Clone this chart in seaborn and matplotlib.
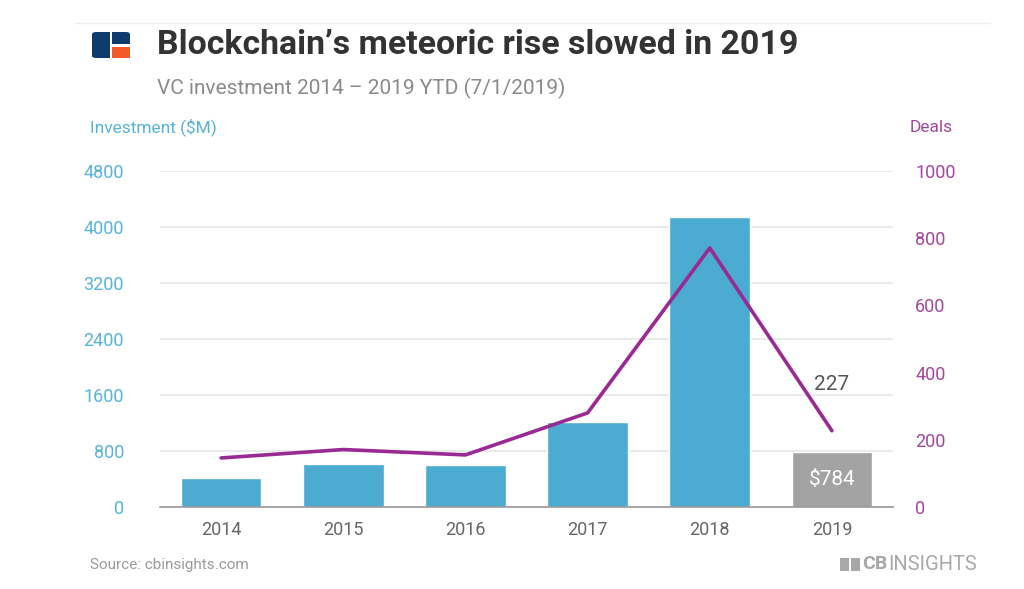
import matplotlib
matplotlib.use("Agg")
import matplotlib.pyplot as plt
import seaborn as sns
import pandas as pd
from matplotlib.patches import FancyBboxPatch, Rectangle

years = ["2014", "2015", "2016", "2017", "2018", "2019"]
investment = [410, 610, 600, 1210, 4140, 784]
deals = [146, 171, 155, 280, 771, 227]
left_ticks = [0, 800, 1600, 2400, 3200, 4000, 4800]
right_ticks = [0, 200, 400, 600, 800, 1000]

sns.set_theme(style="white")
plt.rcParams['font.family'] = ['Roboto', 'DejaVu Sans']

BLUE = "#4BABD0"
GRAY_BAR = "#A3A3A3"
PURPLE = "#992A93"
LBLUE_TXT = "#58B3D8"
PURPLE_TXT = "#A2479D"

fig = plt.figure(figsize=(10.24, 5.89), dpi=100)
ax = fig.add_axes([160/1024, 1-507/589, (893-160)/1024, (507-171)/589])

df = pd.DataFrame({"year": years, "investment": investment, "deals": deals})
palette = [BLUE]*5 + [GRAY_BAR]
sns.barplot(data=df, x="year", y="investment", hue="year", palette=palette,
            legend=False, width=0.66, ax=ax, saturation=1)
ax.set_ylim(0, 4800)
ax.set_xlim(-0.5, 5.5)
ax.set_yticks(left_ticks)
ax.set_yticklabels([str(t) for t in left_ticks], color=LBLUE_TXT, fontsize=13)
ax.grid(axis="y", color="#E6E6E6", linewidth=1.2)
ax.set_axisbelow(True)
for s in ["top", "right", "left"]:
    ax.spines[s].set_visible(False)
ax.spines["bottom"].set_color("#999999")
ax.spines["bottom"].set_linewidth(1.2)
ax.tick_params(axis="y", length=0, pad=26)
ax.tick_params(axis="x", length=0, pad=10, labelsize=13, labelcolor="#666666")
ax.set_xlabel("")
ax.set_ylabel("")

ax2 = ax.twinx()
sns.lineplot(data=df, x="year", y="deals", color=PURPLE, linewidth=2.6, ax=ax2, sort=False)
ax2.set_ylim(0, 1000)
ax2.set_yticks(right_ticks)
ax2.set_yticklabels([str(t) for t in right_ticks], color=PURPLE_TXT, fontsize=13)
ax2.tick_params(axis="y", length=0, pad=16)
for s in ["top", "right", "left", "bottom"]:
    ax2.spines[s].set_visible(False)
ax2.set_ylabel("")
ax2.set_xlabel("")
ax2.grid(False)
ax2.set_xlim(-0.5, 5.5)

# annotations
ax.text(5, investment[5]/2, f"${investment[5]}", ha="center", va="center",
        color="white", fontsize=15)
ax2.text(5, deals[5] + 110, str(deals[5]), ha="center", va="bottom",
         color="#555555", fontsize=15)

# axis titles
fig.text(90/1024, 1-127/589, "Investment ($M)", color=LBLUE_TXT, fontsize=12.5, va="center")
fig.text(910/1024, 1-127/589, "Deals", color=PURPLE_TXT, fontsize=12.5, va="center")

# header
fig.add_artist(plt.Line2D([75/1024, 990/1024], [1-23/589, 1-23/589], color="#EEEEEE", linewidth=1))
fig.text(157/1024, 1-45/589, "Blockchain\u2019s meteoric rise slowed in 2019",
         fontsize=24.4, fontweight="bold", color="#333333", va="center")
fig.text(157/1024, 1-88/589, "VC investment 2014 \u2013 2019 YTD (7/1/2019)",
         fontsize=15, color="#8A8A8A", va="center")

# logo
fig.add_artist(FancyBboxPatch((92/1024, 1-58/589), 38/1024, 26/589,
                              boxstyle="round,pad=0,rounding_size=0.004",
                              transform=fig.transFigure, facecolor="#0E3B6B", edgecolor="none"))
fig.add_artist(Rectangle((112/1024, 1-58/589), 18/1024, 12/589,
                         transform=fig.transFigure, facecolor="#F05A28", edgecolor="none"))
fig.add_artist(Rectangle((110/1024, 1-58/589), 2/1024, 26/589,
                         transform=fig.transFigure, facecolor="white", edgecolor="none"))
fig.add_artist(Rectangle((110/1024, 1-46.5/589), 20/1024, 2/589,
                         transform=fig.transFigure, facecolor="white", edgecolor="none"))

# footer
fig.text(90/1024, 1-565/589, "Source: cbinsights.com", fontsize=11, color="#9A9A9A", va="center")
fig.add_artist(Rectangle((840/1024, 1-571/589), 20/1024, 13/589,
                         transform=fig.transFigure, facecolor="#A8A8A8", edgecolor="none"))
fig.add_artist(Rectangle((849/1024, 1-571/589), 2/1024, 13/589,
                         transform=fig.transFigure, facecolor="white", edgecolor="none"))
fig.text(862/1024, 1-564/589, "CB", fontsize=14, fontweight="bold", color="#A8A8A8", va="center")
fig.text(888/1024, 1-564/589, "INSIGHTS", fontsize=14.5, color="#A8A8A8", va="center")

fig.savefig("out.png", dpi=100, facecolor="white")
